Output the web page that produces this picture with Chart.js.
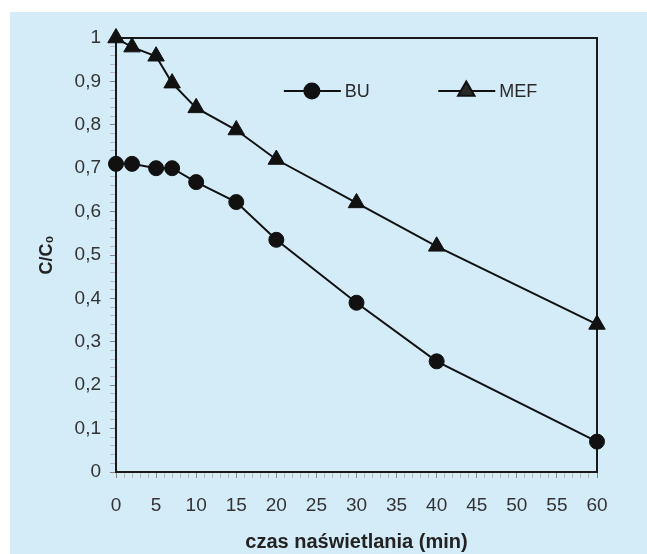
<!DOCTYPE html>
<html>
<head>
<meta charset="utf-8">
<script src="https://cdn.jsdelivr.net/npm/chart.js@4/dist/chart.umd.min.js"></script>
<style>
  html, body { margin: 0; padding: 0; background: #fff; }
  #wrap { width: 647px; height: 554px; }
</style>
</head>
<body>
<div id="wrap"><canvas id="chart" width="647" height="554"></canvas></div>
<script>
// czas naświetlania (min)
const czas = [0, 2, 5, 7, 10, 15, 20, 30, 40, 60];
const bu = [0.71, 0.71, 0.70, 0.70, 0.668, 0.622, 0.535, 0.39, 0.255, 0.07];
const mef = [1.0, 0.979, 0.958, 0.896, 0.839, 0.788, 0.72, 0.62, 0.52, 0.34];
const seriesNames = ['BU', 'MEF'];

const FONT = '"Liberation Sans", Arial, sans-serif';
const INK = '#111';

const toPoints = vals => vals.map((v, i) => ({ x: czas[i], y: v }));

// blue panel + box around the plot
const panel = {
    id: 'panel',
    beforeDraw(chart) {
        const ctx = chart.ctx;
        ctx.save();
        ctx.fillStyle = '#d4ebf8';
        ctx.fillRect(10, 12, chart.width - 10, chart.height - 12);
        ctx.restore();
    },
    beforeDatasetsDraw(chart) {
        const { ctx, chartArea: a } = chart;
        ctx.save();
        ctx.strokeStyle = '#1a1a1a';
        ctx.lineWidth = 2;
        ctx.strokeRect(a.left, a.top, a.right - a.left, a.bottom - a.top);
        ctx.restore();
    }
};

// legend drawn as line + marker, like the original
const lineLegend = {
    id: 'lineLegend',
    afterDraw(chart) {
        const { ctx, chartArea: a } = chart;
        const w = a.right - a.left;
        const y = a.top + 53;
        const items = [
            { x: a.left + w * 0.349, ds: chart.data.datasets[0] },
            { x: a.left + w * 0.67, ds: chart.data.datasets[1] }
        ];
        ctx.save();
        items.forEach(it => {
            ctx.strokeStyle = INK;
            ctx.lineWidth = 2;
            ctx.beginPath();
            ctx.moveTo(it.x, y);
            ctx.lineTo(it.x + 57, y);
            ctx.stroke();
            Chart.helpers.drawPoint(ctx, {
                pointStyle: it.ds.pointStyle,
                radius: it.ds.pointRadius,
                borderWidth: 1
            }, it.x + 28, y);
            ctx.fillStyle = '#2a2a2a';
            ctx.font = '18px ' + FONT;
            ctx.textBaseline = 'middle';
            ctx.textAlign = 'left';
            ctx.fillText(it.ds.label, it.x + 61, y + 1);
        });
        ctx.restore();
    }
};

new Chart(document.getElementById('chart'), {
    type: 'scatter',
    data: {
        datasets: [
            {
                label: seriesNames[0],
                data: toPoints(bu),
                showLine: true,
                borderColor: INK,
                backgroundColor: INK,
                borderWidth: 2,
                pointStyle: 'circle',
                pointRadius: 7.5,
                pointBorderWidth: 1,
                clip: false
            },
            {
                label: seriesNames[1],
                data: toPoints(mef),
                showLine: true,
                borderColor: INK,
                backgroundColor: INK,
                borderWidth: 2,
                pointStyle: 'triangle',
                pointRadius: 9.5,
                pointBorderWidth: 1,
                clip: false
            }
        ]
    },
    options: {
        responsive: false,
        animation: false,
        layout: { padding: { left: 36, top: 38, right: 50, bottom: 0 } },
        plugins: {
            legend: { display: false },
            tooltip: { enabled: false }
        },
        scales: {
            x: {
                type: 'linear',
                min: 0,
                max: 60,
                afterFit(scale) { scale.height = 82; },
                ticks: {
                    stepSize: 1,
                    autoSkip: false,
                    maxRotation: 0,
                    padding: 16,
                    color: '#333',
                    font: { family: FONT, size: 19 },
                    callback: v => (v % 5 === 0 ? String(v) : '')
                },
                grid: {
                    drawOnChartArea: false,
                    tickLength: 6,
                    tickColor: c => (c.tick && c.tick.value % 5 === 0 ? '#888' : '#bbb')
                },
                border: { color: '#1a1a1a', width: 2 },
                title: {
                    display: true,
                    text: 'czas naświetlania (min)',
                    color: '#222',
                    font: { family: FONT, size: 20, weight: 'bold' },
                    padding: { top: 0, bottom: 0 }
                }
            },
            y: {
                min: 0,
                max: 1,
                afterFit(scale) { scale.width = 80; },
                ticks: {
                    stepSize: 0.02,
                    autoSkip: false,
                    padding: 9,
                    color: '#333',
                    font: { family: FONT, size: 19 },
                    callback: v => {
                        const n = Math.round(v * 100);
                        if (n % 10 !== 0) return '';
                        return String(n / 100).replace('.', ',');
                    }
                },
                grid: {
                    drawOnChartArea: false,
                    tickLength: 6,
                    tickColor: c => (c.tick && Math.round(c.tick.value * 100) % 10 === 0 ? '#888' : '#bbb')
                },
                border: { color: '#1a1a1a', width: 2 },
                title: {
                    display: true,
                    text: 'C/C₀',
                    color: '#222',
                    font: { family: FONT, size: 18, weight: 'bold' },
                    padding: { top: 0, bottom: 4 }
                }
            }
        }
    },
    plugins: [panel, lineLegend]
});
</script>
</body>
</html>
